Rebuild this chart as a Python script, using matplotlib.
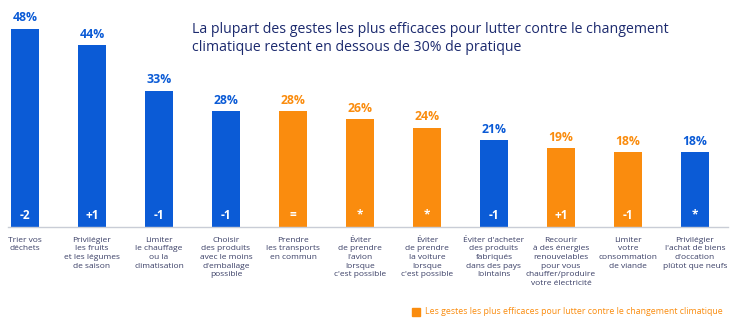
import matplotlib.pyplot as plt

# data
categories = [
    "Trier vos\ndéchets",
    "Privilégier\nles fruits\net les légumes\nde saison",
    "Limiter\nle chauffage\nou la\nclimatisation",
    "Choisir\ndes produits\navec le moins\nd'emballage\npossible",
    "Prendre\nles transports\nen commun",
    "Éviter\nde prendre\nl'avion\nlorsque\nc'est possible",
    "Éviter\nde prendre\nla voiture\nlorsque\nc'est possible",
    "Éviter d'acheter\ndes produits\nfabriqués\ndans des pays\nlointains",
    "Recourir\nà des énergies\nrenouvelables\npour vous\nchauffer/produire\nvotre électricité",
    "Limiter\nvotre\nconsommation\nde viande",
    "Privilégier\nl'achat de biens\nd'occation\nplûtot que neufs",
]
values = [48, 44, 33, 28, 28, 26, 24, 21, 19, 18, 18]
efficient = [0, 0, 0, 0, 1, 1, 1, 0, 1, 1, 0]
changes = ["-2", "+1", "-1", "-1", "=", "*", "*", "-1", "+1", "-1", "*"]

title = ("La plupart des gestes les plus efficaces pour lutter contre le changement\n"
         "climatique restent en dessous de 30% de pratique")
legend_text = "Les gestes les plus efficaces pour lutter contre le changement climatique"

BLUE = "#0b5bd6"
ORANGE = "#fa8c0e"
NAVY = "#1c2a6e"
TEXT = "#3a3f66"

plt.rcParams['font.family'] = ['Open Sans', 'DejaVu Sans']

fig = plt.figure(figsize=(7.5, 3.23), dpi=100)
ax = fig.add_axes([0, 0, 1, 1])
ax.set_xlim(-0.373, 10.821)
ax.set_ylim(-23.4, 55.0)
ax.axis('off')

x = list(range(len(values)))
colors = [ORANGE if e else BLUE for e in efficient]
ax.bar(x, values, width=0.41, color=colors, zorder=2)
ax.plot([-0.254, 10.49], [0, 0], color="#c9cdd6", lw=1.0, zorder=3)

for xi, v, c, ch, lab in zip(x, values, colors, changes, categories):
    ax.text(xi, v + 1.1, f"{v}%", ha='center', va='bottom', color=c,
            fontsize=8.8, fontweight='bold')
    ax.text(xi, 2.8, ch, ha='center', va='center', color='white',
            fontsize=8.5, fontweight='bold', zorder=4)
    ax.text(xi, -2.5, lab, ha='center', va='top',
            color=TEXT, fontsize=6, linespacing=1.32)

fig.text(192 / 750, 1 - 22 / 323, title, ha='left', va='top', color=NAVY,
         fontsize=10.2, fontweight='medium', linespacing=1.3)

# legend
fig.patches.append(plt.Rectangle((412 / 750, 1 - 316 / 323), 8 / 750, 8 / 323,
                                 transform=fig.transFigure, color=ORANGE))
fig.text(425 / 750, 1 - 312 / 323, legend_text, ha='left', va='center',
         color=ORANGE, fontsize=6.3)

fig.savefig("out.png", dpi=100)
